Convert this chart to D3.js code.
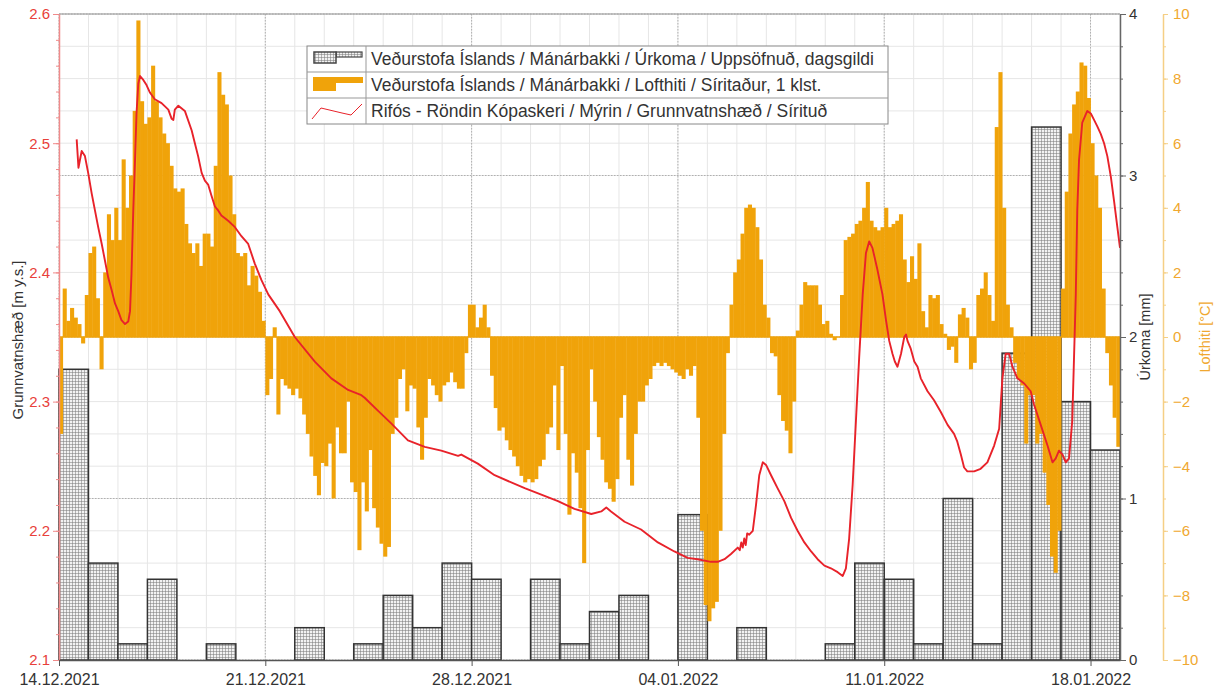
<!DOCTYPE html>
<html><head><meta charset="utf-8">
<script src="https://cdn.jsdelivr.net/npm/d3@7"></script>
<style>body{margin:0;background:#fff}svg{display:block;font-family:"Liberation Sans",Arial,sans-serif}</style>
</head><body><svg id="c" width="1215" height="691"></svg>
<script>
// ---------- data ----------
const startDate = Date.UTC(2021, 11, 14);
const endDate = Date.UTC(2022, 0, 19);
const xTickLabels = ["14.12.2021", "21.12.2021", "28.12.2021", "04.01.2022", "11.01.2022", "18.01.2022"];
// Úrkoma, daily totals (mm), one per day from 14.12.2021
const precip = [1.8, 0.6, 0.1, 0.5, 0, 0.1, 0, 0, 0.2, 0, 0.1, 0.4, 0.2, 0.6, 0.5, 0, 0.5, 0.1,
  0.3, 0.4, 0, 0.9, 0, 0.2, 0, 0, 0.1, 0.6, 0.5, 0.1, 1.0, 0.1, 1.9, 3.3, 1.6, 1.3];
// Lofthiti (°C), 3-hourly from 14.12.2021 00:00
const tempStepHours = 3;
const temp = [
  -3.0, 1.5, 0.5, 0.9, 0.6, 0.4, -0.2, 1.3,
  2.6, 2.8, 1.2, -1.0, 2.0, 3.8, 3.0, 4.0,
  3.0, 5.5, 4.0, 5.0, 7.0, 9.8, 7.3, 6.6,
  6.8, 8.4, 7.3, 6.8, 6.3, 6.0, 5.3, 4.6,
  4.5, 4.6, 3.5, 2.9, 2.6, 2.9, 2.2, 3.2,
  3.2, 2.8, 5.3, 8.2, 7.5, 7.2, 5.0, 3.8,
  2.6, 2.5, 2.6, 1.6, 2.2, 1.9, 1.4, 0.5,
  -1.8, -1.3, 0.3, -2.4, -1.3, -1.5, -1.6, -1.8,
  -1.6, -1.9, -2.4, -3.0, -3.7, -4.3, -4.9, -3.9,
  -4.0, -3.3, -5.0, -2.8, -3.6, -3.6, -2.0, -4.5,
  -4.8, -6.6, -4.5, -5.4, -3.5, -5.3, -5.9, -6.4,
  -6.8, -6.5, -3.0, -2.5, -1.3, -1.0, -2.3, -1.5,
  -1.6, -2.8, -3.8, -2.5, -1.3, -1.5, -1.8, -2.0,
  -1.5, -1.4, -1.1, -1.4, -1.6, -1.6, -0.5, 1.0,
  1.0, 0.3, 0.6, 1.0, 0.3, -1.2, -2.2, -2.9,
  -2.8, -3.2, -3.5, -3.7, -4.0, -4.3, -4.5, -4.4,
  -4.5, -4.4, -4.0, -3.8, -3.0, -2.8, -1.5, -3.5,
  -0.9, -3.0, -5.5, -3.6, -4.2, -5.3, -7.0, -3.5,
  -1.0, -2.0, -3.1, -3.8, -4.5, -4.7, -5.1, -4.4,
  -2.5, -1.8, -3.8, -4.6, -3.0, -2.0, -2.0, -1.5,
  -1.3, -0.9, -0.8, -0.9, -0.8, -0.9, -1.0, -1.1,
  -1.2, -1.3, -1.0, -1.2, -0.9, -2.5, -6.0, -8.3,
  -8.8, -8.4, -8.2, -6.0, -3.0, -0.5, 1.0, 2.0,
  2.4, 3.2, 4.0, 4.1, 4.0, 3.4, 2.4, 1.0,
  0.6, -0.5, -0.6, -1.8, -2.6, -2.9, -3.6, -2.0,
  0.2, 1.0, 1.7, 1.6, 1.6, 1.6, 1.0, 0.4,
  0.5, 0.1, -0.1, 0.0, 1.3, 3.0, 3.1, 3.2,
  3.5, 3.6, 4.0, 4.8, 3.6, 3.4, 3.3, 3.4,
  4.0, 3.4, 3.5, 3.6, 3.8, 2.4, 1.7, 2.5,
  1.8, 2.9, 0.8, 0.3, 1.3, 1.2, 1.3, 0.4,
  0.1, -0.4, -0.3, -0.8, 0.7, 0.9, 0.6, -1.0,
  -0.8, 1.3, 1.5, 2.0, 1.3, 0.5, 6.5, 8.2,
  4.0, 1.0, 0.3, -0.8, -1.3, -1.5, -3.3, -1.8,
  -1.8, -3.3, -3.0, -4.2, -5.2, -6.8, -7.3, -6.0,
  1.5, 4.5, 6.3, 7.2, 7.6, 8.5, 8.4, 7.4,
  6.0, 5.0, 4.0, 1.5, -0.5, -1.5, -2.5, -3.4
];
// Grunnvatnshæð: time (days after 14.12.2021 00:00) and level (m y.s.)
const gwDay = [0.60, 0.66, 0.77, 0.88, 0.99, 1.11, 1.22, 1.33, 1.45, 1.56, 1.67, 1.79, 1.90, 2.01, 2.12, 2.24, 2.35, 2.41, 2.46, 2.52,
  2.58, 2.63, 2.69, 2.75, 2.86, 2.97, 3.09, 3.25, 3.48, 3.71, 3.82, 3.88, 3.93, 4.05, 4.27, 4.50, 4.61, 4.72, 4.84, 4.95,
  5.06, 5.18, 5.29, 5.40, 5.51, 5.74, 5.97, 6.19, 6.42, 6.64, 6.87, 7.10, 7.49, 8.00, 8.68, 9.24, 9.81, 10.26, 10.37, 10.82,
  11.28, 11.84, 12.41, 12.97, 13.54, 13.65, 14.21, 14.78, 15.80, 16.93, 17.49, 18.06, 18.40, 18.57, 18.73, 19.19, 19.75, 20.32, 20.88, 21.33,
  21.67, 22.12, 22.35, 22.58, 22.80, 23.03, 23.10, 23.15, 23.20, 23.25, 23.30, 23.35, 23.42, 23.54, 23.65, 23.76, 23.88, 23.99, 24.16, 24.38,
  24.61, 24.84, 25.06, 25.29, 25.52, 25.74, 25.97, 26.19, 26.42, 26.59, 26.70, 26.81, 26.93, 27.04, 27.15, 27.27, 27.38, 27.49, 27.60, 27.77,
  27.94, 28.06, 28.17, 28.28, 28.36, 28.45, 28.57, 28.68, 28.74, 28.79, 28.90, 29.02, 29.13, 29.24, 29.47, 29.69, 29.92, 30.15, 30.37, 30.48,
  30.60, 30.71, 30.82, 31.05, 31.27, 31.50, 31.73, 31.90, 32.01, 32.12, 32.24, 32.35, 32.52, 32.75, 32.97, 33.08, 33.31, 33.54, 33.71, 33.82,
  33.93, 34.05, 34.16, 34.27, 34.38, 34.50, 34.55, 34.61, 34.72, 34.89, 35.01, 35.12, 35.23, 35.35, 35.46, 35.57, 35.69, 35.80, 35.91, 36.00];
const gwLevel = [2.503, 2.481, 2.494, 2.490, 2.477, 2.461, 2.448, 2.435, 2.422, 2.409, 2.396, 2.386, 2.376, 2.370, 2.363, 2.360, 2.362, 2.370, 2.399, 2.448,
  2.487, 2.523, 2.546, 2.552, 2.549, 2.545, 2.539, 2.534, 2.531, 2.526, 2.519, 2.518, 2.526, 2.529, 2.525, 2.510, 2.500, 2.490, 2.477, 2.471,
  2.468, 2.459, 2.451, 2.448, 2.444, 2.440, 2.435, 2.428, 2.422, 2.407, 2.394, 2.383, 2.370, 2.350, 2.331, 2.318, 2.309, 2.305, 2.303, 2.293,
  2.283, 2.270, 2.265, 2.262, 2.258, 2.259, 2.252, 2.243, 2.233, 2.223, 2.217, 2.213, 2.215, 2.218, 2.215, 2.207, 2.201, 2.191, 2.184, 2.179,
  2.178, 2.176, 2.176, 2.178, 2.182, 2.187, 2.185, 2.191, 2.187, 2.194, 2.189, 2.198, 2.197, 2.200, 2.220, 2.243, 2.253, 2.251, 2.243, 2.233,
  2.223, 2.210, 2.200, 2.191, 2.184, 2.178, 2.173, 2.171, 2.168, 2.165, 2.171, 2.194, 2.236, 2.285, 2.334, 2.383, 2.415, 2.424, 2.419, 2.402,
  2.383, 2.363, 2.347, 2.337, 2.331, 2.327, 2.337, 2.350, 2.352, 2.347, 2.341, 2.331, 2.327, 2.318, 2.308, 2.301, 2.292, 2.282, 2.275, 2.269,
  2.259, 2.249, 2.246, 2.246, 2.248, 2.253, 2.266, 2.279, 2.318, 2.337, 2.337, 2.327, 2.318, 2.314, 2.308, 2.298, 2.282, 2.266, 2.253, 2.256,
  2.262, 2.259, 2.253, 2.256, 2.285, 2.383, 2.448, 2.487, 2.516, 2.525, 2.523, 2.518, 2.513, 2.507, 2.500, 2.490, 2.474, 2.455, 2.435, 2.419];
const leftTicks = [2.1, 2.2, 2.3, 2.4, 2.5, 2.6];
const precipTicks = [0, 1, 2, 3, 4];
const tempTicks = [-10, -8, -6, -4, -2, 0, 2, 4, 6, 8, 10];
const legendLabels = [
  "Veðurstofa Íslands / Mánárbakki / Úrkoma / Uppsöfnuð, dagsgildi",
  "Veðurstofa Íslands / Mánárbakki / Lofthiti / Síritaður, 1 klst.",
  "Rifós - Röndin Kópaskeri / Mýrin / Grunnvatnshæð / Sírituð"
];
const axisTitles = {left: "Grunnvatnshæð [m y.s.]", precip: "Úrkoma [mm]", temp: "Lofthiti [°C]"};

// ---------- layout ----------
const DAY = 86400000;
const L = 59, R = 1120, T = 14, B = 660;
const svg = d3.select("#c");
const x = d3.scaleUtc().domain([startDate, endDate]).range([L, R]);
const yL = d3.scaleLinear().domain([2.1, 2.6]).range([B, T]);
const yP = d3.scaleLinear().domain([0, 4]).range([B, T]);
const yT = d3.scaleLinear().domain([-10, 10]).range([B, T]);
const ORANGE = "#f0a30a", RED = "#e8222a";

const defs = svg.append("defs");
const pat = defs.append("pattern").attr("id", "hatch").attr("patternUnits", "userSpaceOnUse")
  .attr("width", 3).attr("height", 3);
pat.append("rect").attr("width", 3).attr("height", 3).attr("fill", "#f2f2f2");
pat.append("path").attr("d", "M0,0.25H3M0.25,0V3").attr("stroke", "#7a7a7a").attr("stroke-width", 0.7);

// grid
const grid = svg.append("g");
const days = d3.utcDay.range(startDate, endDate + 1);
grid.selectAll(".vmin").data(days).join("line")
  .attr("x1", d => x(d)).attr("x2", d => x(d)).attr("y1", T).attr("y2", B)
  .attr("stroke", "#e6e6e6").attr("stroke-width", 1);
const hMinor = d3.range(0, 4.001, 0.2);
grid.selectAll(".hmin").data(hMinor).join("line")
  .attr("x1", L).attr("x2", R).attr("y1", d => yP(d)).attr("y2", d => yP(d))
  .attr("stroke", "#e6e6e6").attr("stroke-width", 1);
const weekDates = xTickLabels.map((s, i) => startDate + i * 7 * DAY);
grid.selectAll(".vmaj").data(weekDates).join("line")
  .attr("x1", d => x(d)).attr("x2", d => x(d)).attr("y1", T).attr("y2", B)
  .attr("stroke", "#b0b0b0").attr("stroke-dasharray", "1.5,1.5");
grid.selectAll(".hmaj").data(precipTicks).join("line")
  .attr("x1", L).attr("x2", R).attr("y1", d => yP(d)).attr("y2", d => yP(d))
  .attr("stroke", "#b0b0b0").attr("stroke-dasharray", "1.5,1.5");

// precipitation bars
svg.append("g").selectAll("rect").data(precip.map((v, i) => ({v, i}))).join("rect")
  .filter(d => d.v > 0)
  .attr("x", d => x(startDate + d.i * DAY))
  .attr("width", d => x(startDate + (d.i + 1) * DAY) - x(startDate + d.i * DAY))
  .attr("y", d => yP(d.v)).attr("height", d => yP(0) - yP(d.v))
  .attr("fill", "url(#hatch)").attr("stroke", "#333").attr("stroke-width", 1.5);

// temperature bars
const stepMs = tempStepHours * 3600000;
svg.append("g").selectAll("rect").data(temp.map((v, i) => ({v, i}))).join("rect")
  .attr("x", d => x(startDate + d.i * stepMs))
  .attr("width", d => x(startDate + (d.i + 1) * stepMs) - x(startDate + d.i * stepMs) + 0.4)
  .attr("y", d => Math.min(yT(0), yT(d.v)))
  .attr("height", d => Math.abs(yT(d.v) - yT(0)))
  .attr("fill", ORANGE);
svg.append("line").attr("x1", L).attr("x2", R).attr("y1", yT(0)).attr("y2", yT(0))
  .attr("stroke", ORANGE).attr("stroke-width", 1.5);

// groundwater line
const gw = gwDay.map((d, i) => [startDate + d * DAY, gwLevel[i]]);
svg.append("path").datum(gw)
  .attr("d", d3.line().x(d => x(d[0])).y(d => yL(d[1])))
  .attr("fill", "none").attr("stroke", RED).attr("stroke-width", 1.9).attr("stroke-linejoin", "round");

// frame top
svg.append("line").attr("x1", L).attr("x2", R).attr("y1", T).attr("y2", T).attr("stroke", "#999").attr("stroke-width", 1.2);

// ---------- axes ----------
function style(g, color, lineColor, fs) {
  g.selectAll("text").attr("fill", color).style("font-size", (fs || 15) + "px").style("font-family", '"Liberation Sans", Arial, sans-serif');
  g.selectAll("line").attr("stroke", lineColor);
  g.select(".domain").attr("stroke", lineColor).attr("stroke-width", 1.5);
}
// left
const gl = svg.append("g").attr("transform", `translate(${L},0)`);
gl.call(d3.axisLeft(yL).tickValues(d3.range(2.1, 2.6001, 0.02)).tickSize(3).tickFormat("").tickSizeOuter(0));
style(gl, "#e8403a", "#f08a8a");
const gl2 = svg.append("g").attr("transform", `translate(${L},0)`);
gl2.call(d3.axisLeft(yL).tickValues(leftTicks).tickSize(6).tickPadding(3).tickFormat(d3.format(".1f")).tickSizeOuter(0));
style(gl2, "#e8403a", "#f08a8a");
gl2.select(".domain").remove();

// bottom
const gb = svg.append("g").attr("transform", `translate(0,${B})`);
gb.call(d3.axisBottom(x).tickValues(weekDates).tickSize(6).tickPadding(8)
  .tickFormat((d, i) => xTickLabels[i]).tickSizeOuter(0));
style(gb, "#333", "#555", 16);

// right precip axis
const gp = svg.append("g").attr("transform", `translate(${R},0)`);
gp.call(d3.axisRight(yP).tickValues(d3.range(0, 4.001, 0.2)).tickSize(3).tickFormat("").tickSizeOuter(0));
style(gp, "#333", "#666");
const gp2 = svg.append("g").attr("transform", `translate(${R},0)`);
gp2.call(d3.axisRight(yP).tickValues(precipTicks).tickSize(6).tickPadding(3).tickFormat(d3.format("d")).tickSizeOuter(0));
style(gp2, "#333", "#666");
gp2.select(".domain").remove();

// temp axis
const TX = 1163;
const gt = svg.append("g").attr("transform", `translate(${TX},0)`);
gt.call(d3.axisRight(yT).tickValues(d3.range(-10, 10.001, 1)).tickSize(3).tickFormat("").tickSizeOuter(0));
style(gt, "#f0a830", "#f5cf85");
const gt2 = svg.append("g").attr("transform", `translate(${TX},0)`);
gt2.call(d3.axisRight(yT).tickValues(tempTicks).tickSize(5).tickPadding(5).tickFormat(d3.format("d")).tickSizeOuter(0));
style(gt2, "#f0a830", "#f5cf85");
gt2.select(".domain").remove();

// axis titles
function vTitle(txt, cx, cy, color, fs) {
  svg.append("text").attr("transform", `translate(${cx},${cy}) rotate(-90)`)
    .attr("text-anchor", "middle").attr("dy", "0.35em")
    .attr("fill", color).style("font-size", fs + "px").text(txt);
}
vTitle(axisTitles.left, 18, 340, "#333", 15);
vTitle(axisTitles.precip, 1145, 337, "#333", 14.5);
vTitle(axisTitles.temp, 1205, 337, "#f0a830", 14.5);

// ---------- legend ----------
const lg = svg.append("g");
const LX = 307, LY = 46, LW = 581, RH = 26, DIV = 366;
lg.append("rect").attr("x", LX).attr("y", LY).attr("width", LW).attr("height", RH * 3)
  .attr("fill", "#fff").attr("stroke", "#888");
[1, 2].forEach(i => lg.append("line").attr("x1", LX).attr("x2", LX + LW)
  .attr("y1", LY + RH * i).attr("y2", LY + RH * i).attr("stroke", "#999"));
lg.append("line").attr("x1", DIV).attr("x2", DIV).attr("y1", LY).attr("y2", LY + RH * 3).attr("stroke", "#999");
lg.selectAll(".lt").data(legendLabels).join("text")
  .attr("x", DIV + 5).attr("y", (d, i) => LY + RH * i + RH / 2).attr("dy", "0.36em")
  .attr("fill", "#333").style("font-size", "17.5px").text(d => d);
// icon 1
lg.append("rect").attr("x", 336).attr("y", LY + 6).attr("width", 26).attr("height", 5)
  .attr("fill", "url(#hatch)").attr("stroke", "#444").attr("stroke-width", 1.2);
lg.append("rect").attr("x", 314).attr("y", LY + 6).attr("width", 22).attr("height", 11)
  .attr("fill", "url(#hatch)").attr("stroke", "#444").attr("stroke-width", 1.5);
// icon 2
lg.append("path").attr("d", `M313,${LY + RH + 5}H363V${LY + RH + 11}H336V${LY + RH + 19}H313Z`).attr("fill", ORANGE);
// icon 3
lg.append("path").attr("d", `M312,${LY + 2 * RH + 21}L321,${LY + 2 * RH + 10}L342,${LY + 2 * RH + 15}L351,${LY + 2 * RH + 17}L362,${LY + 2 * RH + 6}`)
  .attr("fill", "none").attr("stroke", RED).attr("stroke-width", 1);
</script></body></html>
